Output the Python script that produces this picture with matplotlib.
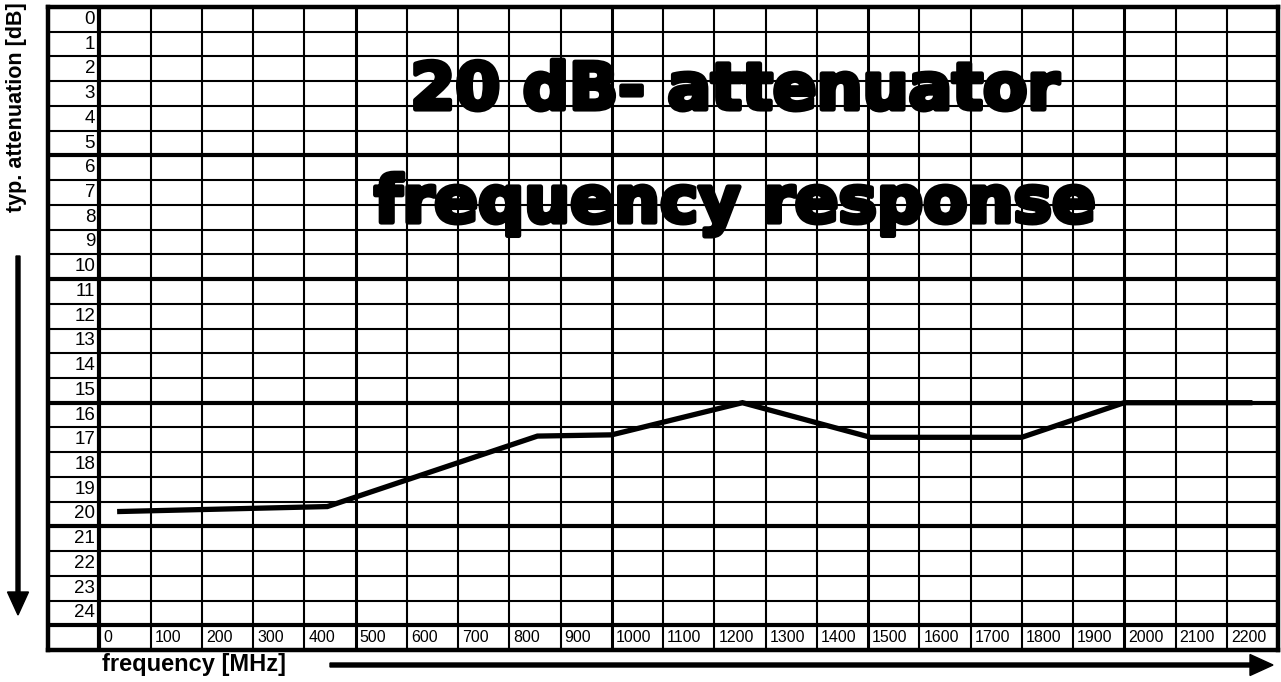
import matplotlib
matplotlib.use("Agg")
import matplotlib.pyplot as plt
import matplotlib.patheffects as pe

# attenuation curve
freq = [40, 445, 855, 1000, 1255, 1505, 1800, 2000, 2245]
atten = [20.4, 20.2, 17.35, 17.3, 16.0, 17.4, 17.4, 16.0, 16.0]

y_labels = [str(v) for v in range(25)]
x_labels = [str(v) for v in range(0, 2300, 100)]

plt.rcParams['font.family'] = ['Liberation Sans', 'DejaVu Sans']

W, H = 1281, 682
fig = plt.figure(figsize=(W / 100, H / 100), dpi=100)
fig.patch.set_facecolor('white')

# main grid area (pixel box 48..1278 x 7..650)
ax = fig.add_axes([48 / W, (H - 650) / H, (1278 - 48) / W, (650 - 7) / H])
ax.set_xlim(-100, 2300)
ax.set_ylim(26, 0)
ax.set_xticks([])
ax.set_yticks([])
for s in ax.spines.values():
    s.set_linewidth(3.2)

thin = 1.5
for v in range(1, 26):
    lw = 3.0 if v in (6, 11, 16, 21, 25) else thin
    ax.axhline(v, color='black', lw=lw, zorder=1)
for f in range(0, 2300, 100):
    lw = 3.0 if f == 0 else (2.2 if f % 500 == 0 else thin)
    ax.axvline(f, color='black', lw=lw, zorder=1)

for i, lab in enumerate(y_labels):
    ax.text(-8, i + 0.5, lab, ha='right', va='center', fontsize=13.5)
for i, lab in enumerate(x_labels):
    ax.text(i * 100 + 8, 25.5, lab, ha='left', va='center', fontsize=11.5)

ax.plot(freq, atten, color='black', lw=3.8, solid_joinstyle='miter', zorder=3)

title_fx = [pe.Stroke(linewidth=3.5, foreground='black'), pe.Normal()]
ax.text(1240, 4.13, '20 dB- attenuator', ha='center', va='baseline',
        fontsize=46.5, fontweight='bold', family='DejaVu Sans', zorder=4,
        path_effects=title_fx)
ax.text(1240, 8.7, 'frequency response', ha='center', va='baseline',
        fontsize=46.5, fontweight='bold', family='DejaVu Sans', zorder=4,
        path_effects=title_fx)

# overlay in pixel units for outside labels and arrows
ov = fig.add_axes([0, 0, 1, 1])
ov.set_xlim(0, W)
ov.set_ylim(H, 0)
ov.axis('off')
ov.patch.set_alpha(0)

ov.text(17, 107, 'typ. attenuation [dB]', rotation=90, ha='center', va='center',
        fontsize=15.5, fontweight='bold')
ov.text(102, 664, 'frequency [MHz]', ha='left', va='center',
        fontsize=17, fontweight='bold')

ov.arrow(18, 256, 0, 615 - 256, width=4, head_width=21, head_length=23,
         length_includes_head=True, color='black')
ov.arrow(330, 665, 1273 - 330, 0, width=4, head_width=21, head_length=23,
         length_includes_head=True, color='black')

fig.savefig('out.png', dpi=100)
